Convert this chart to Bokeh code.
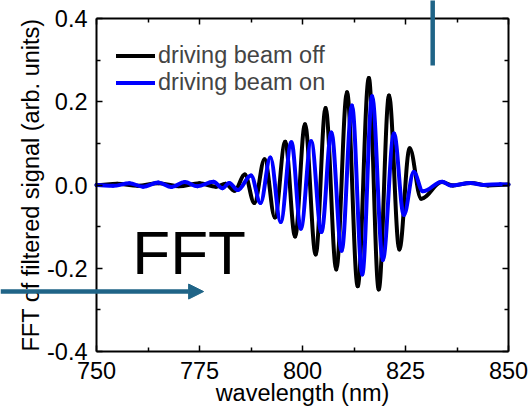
from bokeh.plotting import figure
from bokeh.models import (Range1d, LinearAxis, FixedTicker, PrintfTickFormatter,
                          Legend, LegendItem, Label, Arrow, NormalHead, ColumnDataSource)
from bokeh.embed import file_html
from bokeh.resources import INLINE

# ---- data: extrema (wavelength nm, value) ----
off_wl = [750.0, 755.0, 760.0, 765.0, 770.0, 775.0, 779.0, 781.3, 783.5, 786.0,
          788.3, 790.8, 793.3, 795.8, 798.2, 800.6, 803.2, 805.6, 808.2, 810.8,
          813.4, 816.1, 818.5, 821.0, 823.5, 826.0, 828.8, 833.8, 836.5, 840.8,
          845.0, 850.0]
off_val = [0.000, 0.003, -0.002, 0.004, -0.003, 0.004, -0.004, 0.003, -0.014, 0.025,
           -0.043, 0.062, -0.078, 0.104, -0.124, 0.146, -0.167, 0.185, -0.203, 0.223,
           -0.243, 0.257, -0.251, 0.215, -0.155, 0.088, -0.033, 0.007, -0.001, 0.005,
           -0.001, 0.001]

on_wl = [750.0, 754.0, 758.0, 761.3, 765.0, 768.2, 771.4, 774.5, 778.4, 780.6,
         782.2, 784.3, 787.5, 789.8, 792.2, 794.7, 797.3, 799.6, 802.1, 804.6,
         807.0, 809.5, 812.0, 814.5, 816.9, 819.5, 822.2, 824.6, 827.0, 829.2,
         833.9, 836.0, 840.8, 844.0, 848.0, 850.0]
on_val = [0.000, -0.002, 0.004, -0.004, 0.006, -0.005, 0.007, -0.003, 0.008, -0.008,
          0.005, -0.012, 0.023, -0.043, 0.066, -0.089, 0.103, -0.105, 0.105, -0.113,
          0.126, -0.158, 0.191, -0.215, 0.213, -0.180, 0.124, -0.072, 0.031, -0.015,
          0.008, -0.001, 0.005, 0.000, 0.002, 0.001]

x_major = [750, 775, 800, 825, 850]
x_minor = [762.5, 787.5, 812.5, 837.5]
y_major = [-0.4, -0.2, 0.0, 0.2, 0.4]
y_minor = [-0.3, -0.1, 0.1, 0.3]
x_lim = (750, 850)
y_lim = (-0.4, 0.4)

series_labels = ["driving beam off", "driving beam on"]
x_title = "wavelength (nm)"
y_title = "FFT of filtered signal (arb. units)"
annotation_text = "FFT"

FONT = "Liberation Sans"
TEAL = "#1f6487"
FS = "23.5px"

W, H = 528, 407
# plot-box position inside the canvas (pixels)
BOX_L, BOX_R, BOX_T, BOX_B = 96, 508, 18, 351
xs_ = (x_lim[1] - x_lim[0]) / (BOX_R - BOX_L)
ys_ = (y_lim[1] - y_lim[0]) / (BOX_B - BOX_T)
x_range = Range1d(x_lim[0] - BOX_L * xs_, x_lim[1] + (W - BOX_R) * xs_)
y_range = Range1d(y_lim[0] - (H - BOX_B) * ys_, y_lim[1] + BOX_T * ys_)


def bezier_source(xs, ys, k=0.3634):
    """Smooth half-wave segments between successive extrema."""
    d = dict(x0=[], y0=[], x1=[], y1=[], cx0=[], cy0=[], cx1=[], cy1=[])
    for i in range(len(xs) - 1):
        a, b = xs[i], xs[i + 1]
        dx = b - a
        d["x0"].append(a); d["y0"].append(ys[i])
        d["x1"].append(b); d["y1"].append(ys[i + 1])
        d["cx0"].append(a + k * dx); d["cy0"].append(ys[i])
        d["cx1"].append(b - k * dx); d["cy1"].append(ys[i + 1])
    return ColumnDataSource(d)


p = figure(width=W, height=H, output_backend="svg", toolbar_location=None,
           x_range=x_range, y_range=y_range, x_axis_location=None, y_axis_location=None,
           min_border=0)
p.outline_line_color = None
p.grid.visible = False
p.background_fill_color = "white"
p.border_fill_color = "white"

r_off = p.bezier(x0="x0", y0="y0", x1="x1", y1="y1", cx0="cx0", cy0="cy0",
                 cx1="cx1", cy1="cy1", source=bezier_source(off_wl, off_val),
                 line_color="black", line_width=4, line_cap="round")
r_on = p.bezier(x0="x0", y0="y0", x1="x1", y1="y1", cx0="cx0", cy0="cy0",
                cx1="cx1", cy1="cy1", source=bezier_source(on_wl, on_val),
                line_color="#0000ff", line_width=4, line_cap="round")

xt = FixedTicker(ticks=x_major, minor_ticks=x_minor)
yt = FixedTicker(ticks=y_major, minor_ticks=y_minor)

bottom_axis = LinearAxis(ticker=xt, bounds=x_lim, fixed_location=y_lim[0],
                         axis_label=x_title)
left_axis = LinearAxis(ticker=yt, bounds=y_lim, fixed_location=x_lim[0],
                       axis_label=y_title, formatter=PrintfTickFormatter(format="%.1f"))
top_axis = LinearAxis(ticker=xt, bounds=x_lim, fixed_location=y_lim[1])
right_axis = LinearAxis(ticker=yt, bounds=y_lim, fixed_location=x_lim[1])
for ax in (top_axis, right_axis):
    ax.major_label_text_alpha = 0
    ax.major_label_text_font_size = "1px"
    ax.major_label_standoff = 0

for ax in (bottom_axis, left_axis, top_axis, right_axis):
    ax.axis_line_color = "black"
    ax.axis_line_width = 2
    ax.major_tick_in = 6
    ax.major_tick_out = 0
    ax.minor_tick_in = 4
    ax.minor_tick_out = 0
    ax.major_tick_line_width = 1.5
    ax.minor_tick_line_width = 1.5
    ax.major_tick_line_color = "black"
    ax.minor_tick_line_color = "black"

for ax in (bottom_axis, left_axis):
    ax.major_label_text_font = FONT
    ax.major_label_text_font_size = FS
    ax.major_label_text_color = "black"
    ax.axis_label_text_font = FONT
    ax.axis_label_text_font_size = FS
    ax.axis_label_text_font_style = "normal"
    ax.axis_label_text_color = "black"

left_axis.major_label_standoff = 9
left_axis.axis_label_standoff = 0
bottom_axis.major_label_standoff = 10
bottom_axis.axis_label_standoff = -2

p.add_layout(bottom_axis, "below")
p.add_layout(left_axis, "left")
p.add_layout(top_axis, "above")
p.add_layout(right_axis, "right")

legend = Legend(items=[LegendItem(label=series_labels[0], renderers=[r_off]),
                       LegendItem(label=series_labels[1], renderers=[r_on])],
                location=(116, 311), border_line_color=None, background_fill_alpha=0,
                label_text_font=FONT, label_text_font_size=FS, glyph_width=39,
                glyph_height=27, label_height=27, label_standoff=3, spacing=-3,
                padding=0, margin=0)
p.add_layout(legend)

p.add_layout(Label(x=758.7, y=-0.2445, text=annotation_text, text_font=FONT,
                   text_font_size="62px", text_color="black"))

p.add_layout(Arrow(x_start=726.7, y_start=-0.256, x_end=776.0, y_end=-0.256,
                   line_color=TEAL, line_width=4.5,
                   end=NormalHead(size=15, fill_color=TEAL, line_color=TEAL, line_width=1)))
p.add_layout(Arrow(x_start=831.6, y_start=0.445, x_end=831.6, y_end=0.287,
                   line_color=TEAL, line_width=4.5, end=None))

open("out.html", "w").write(file_html(p, INLINE))
